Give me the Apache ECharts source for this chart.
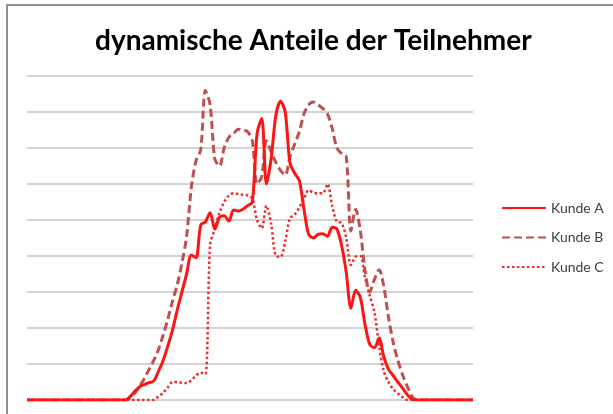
<!DOCTYPE html>
<html>
<head>
<meta charset="utf-8">
<title>dynamische Anteile der Teilnehmer</title>
<script src="https://cdn.jsdelivr.net/npm/echarts@6/dist/echarts.min.js"></script>
<style>
  html, body { margin: 0; padding: 0; background: #ffffff; overflow: hidden; }
  #chart { width: 613px; height: 414px; }
</style>
</head>
<body>
<div id="chart"></div>
<script>
// Viertelstunden eines Tages (00:00 .. 23:45)
const zeiten = [];
for (let h = 0; h < 24; h++) {
  for (let m = 0; m < 60; m += 15) {
    zeiten.push(String(h).padStart(2, '0') + ':' + String(m).padStart(2, '0'));
  }
}

const kundeA = [
  0, 0, 0, 0, 0, 0, 0, 0, 0, 0, 0, 0, 0, 0, 0, 0, 0, 0, 0, 0, 0,
  0, 1, 2.5, 3.7, 4.3, 4.8, 5.3, 8, 11, 15, 19.5, 25, 30, 35, 40.3, 39.5,
  48.6, 49.5, 52, 47.5, 50.7, 51.2, 49.7, 52.8, 52.5, 53, 54, 55,
  74, 78.2, 60, 67, 79, 83, 80, 66, 63, 61, 53, 46, 45, 46, 46.2, 45.5,
  48, 47.5, 43, 35.5, 25.5, 30.5, 28.5, 21, 15.5, 14.5, 17.2, 12, 8.5,
  6.8, 5, 3.3, 1.5, 0.2,
  0, 0, 0, 0, 0, 0, 0, 0, 0, 0, 0, 0, 0
];

const kundeB = [
  0, 0, 0, 0, 0, 0, 0, 0, 0, 0, 0, 0, 0, 0, 0, 0, 0, 0, 0, 0, 0,
  0, 0.8, 2, 3.8, 6, 8.5, 11, 14, 18, 22.5, 27.5, 32, 38, 45.5, 59, 66.5,
  69.5, 86, 82, 67, 65, 70, 73, 74, 75.2, 75, 74.5, 72,
  60, 62, 72, 69, 66, 63.8, 62.5, 67.5, 71, 74.5, 79.5, 82, 82.8, 82, 81, 79.5,
  75.5, 70, 68.5, 67.5, 47, 53, 47, 36, 30, 33.5, 36.2, 31.5, 23,
  16, 11, 7, 3.8, 1,
  0, 0, 0, 0, 0, 0, 0, 0, 0, 0, 0, 0, 0
];

const kundeC = [
  0, 0, 0, 0, 0, 0, 0, 0, 0, 0, 0, 0, 0, 0, 0, 0, 0, 0, 0, 0, 0,
  0, 0, 0, 0, 0, 0, 0,
  1, 2, 3.5, 5, 5, 4.8, 4.7, 5.5, 6.8, 7.6, 7.2, 43, 47.5, 52, 55, 56.8,
  57.4, 57.2, 57, 56.8, 56, 50, 47.7, 54, 49, 40, 39.8, 44, 50.5, 51.5,
  53.5, 56, 58.3, 57.6, 57.4, 57.4, 60, 54, 49.5, 49.2, 45, 37.5, 39.8,
  40, 34, 29, 24.5, 15, 8, 5, 3, 1.8, 0.8, 0,
  0, 0, 0, 0, 0, 0, 0, 0, 0, 0, 0, 0, 0, 0
];

const serienNamen = ['Kunde A', 'Kunde B', 'Kunde C'];
const serienFarben = ['#ff1414', '#c0504d', '#f22a2a'];

const chart = echarts.init(document.getElementById('chart'), null, { renderer: 'canvas' });

chart.setOption({
  animation: false,
  backgroundColor: '#ffffff',
  title: {
    text: 'dynamische Anteile der Teilnehmer',
    left: 90,
    top: 22,
    textStyle: {
      fontFamily: 'Lato',
      fontWeight: 'bold',
      fontSize: 28,
      color: '#000000'
    }
  },
  // Rahmen des Diagrammbereichs (oben und links sichtbar)
  graphic: [
    {
      type: 'line',
      silent: true,
      shape: { x1: 6, y1: 5, x2: 613, y2: 5 },
      style: { stroke: '#8f8f8f', lineWidth: 2 }
    },
    {
      type: 'line',
      silent: true,
      shape: { x1: 7, y1: 5, x2: 7, y2: 414 },
      style: { stroke: '#8f8f8f', lineWidth: 2 }
    }
  ],
  legend: {
    orient: 'vertical',
    left: 501,
    top: 201,
    padding: 0,
    itemWidth: 44,
    itemHeight: 14,
    itemGap: 15.5,
    itemStyle: { opacity: 0 },
    textStyle: { fontFamily: 'Lato', fontSize: 14, color: '#404040' },
    data: serienNamen
  },
  grid: { left: 27, right: 140, top: 76, bottom: 14 },
  xAxis: {
    type: 'category',
    data: zeiten,
    boundaryGap: false,
    axisLine: { show: false },
    axisTick: { show: false },
    axisLabel: { show: false },
    splitLine: { show: false }
  },
  yAxis: {
    type: 'value',
    min: 0,
    max: 90,
    interval: 10,
    axisLine: { show: false },
    axisTick: { show: false },
    axisLabel: { show: false },
    splitLine: { lineStyle: { color: '#c4c4c4', width: 1.5 } }
  },
  series: [
    {
      name: serienNamen[0],
      type: 'line',
      data: kundeA,
      smooth: 0.3,
      symbol: 'none',
      z: 4,
      color: serienFarben[0],
      lineStyle: { color: serienFarben[0], width: 3 }
    },
    {
      name: serienNamen[1],
      type: 'line',
      data: kundeB,
      smooth: 0.3,
      symbol: 'none',
      z: 3,
      color: serienFarben[1],
      lineStyle: { color: serienFarben[1], width: 3, type: [8, 4] }
    },
    {
      name: serienNamen[2],
      type: 'line',
      data: kundeC,
      smooth: 0.3,
      symbol: 'none',
      z: 2,
      color: serienFarben[2],
      lineStyle: { color: serienFarben[2], width: 2.5, type: [2.5, 2.5] }
    }
  ]
});
</script>
</body>
</html>
